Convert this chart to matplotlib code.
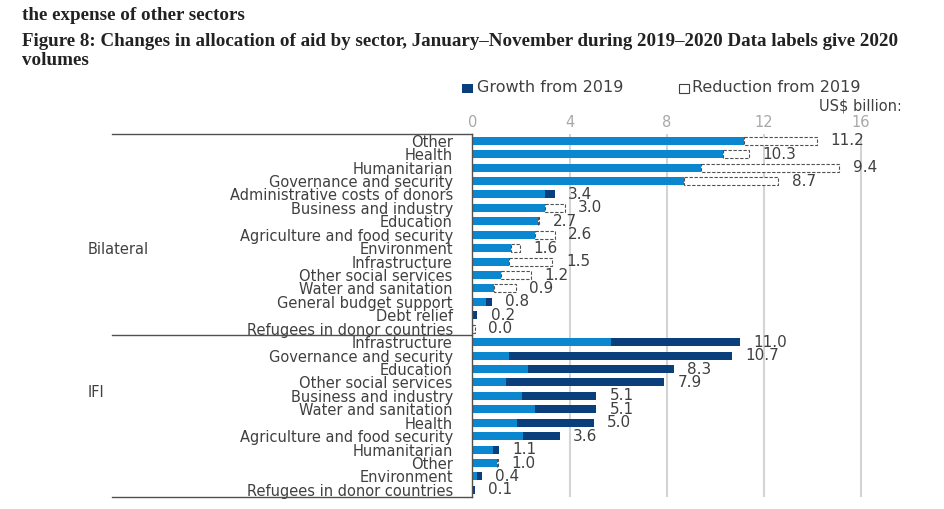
import numpy as np
import matplotlib
matplotlib.use("Agg")
import matplotlib.pyplot as plt
from matplotlib import transforms
from matplotlib.patches import Rectangle

# --- data (US$ billion, Jan-Nov) ---
bil_sectors = ["Other", "Health", "Humanitarian", "Governance and security",
               "Administrative costs of donors", "Business and industry", "Education",
               "Agriculture and food security", "Environment", "Infrastructure",
               "Other social services", "Water and sanitation", "General budget support",
               "Debt relief", "Refugees in donor countries"]
bil_2019 = [14.2, 11.4, 15.1, 12.6, 3.0, 3.8, 2.75, 3.4, 1.95, 3.3, 2.4, 1.8, 0.55, 0.02, 0.1]
bil_2020 = [11.2, 10.3, 9.4, 8.7, 3.4, 3.0, 2.7, 2.6, 1.6, 1.5, 1.2, 0.9, 0.8, 0.2, 0.0]

ifi_sectors = ["Infrastructure", "Governance and security", "Education", "Other social services",
               "Business and industry", "Water and sanitation", "Health",
               "Agriculture and food security", "Humanitarian", "Other", "Environment",
               "Refugees in donor countries"]
ifi_2019 = [5.7, 1.5, 2.3, 1.4, 2.05, 2.6, 1.85, 2.1, 0.85, 1.05, 0.2, 0.0]
ifi_2020 = [11.0, 10.7, 8.3, 7.9, 5.1, 5.1, 5.0, 3.6, 1.1, 1.0, 0.4, 0.1]

groups = ["Bilateral", "IFI"]
x_ticks = [0, 4, 8, 12, 16]

LIGHT = "#0a87cf"
DARK = "#0b3f7c"
TXT = "#404040"

sectors = bil_sectors + ifi_sectors
v19 = np.array(bil_2019 + ifi_2019)
v20 = np.array(bil_2020 + ifi_2020)
rows = np.arange(len(sectors))
base = np.minimum(v19, v20)
growth = np.clip(v20 - v19, 0, None)
reduction = np.clip(v19 - v20, 0, None)

plt.rcParams["font.family"] = ["DejaVu Sans"]
W, H = 945, 509
fig = plt.figure(figsize=(W / 100, H / 100), dpi=100)
ax = fig.add_axes([472.3 / W, 1 - 496.6 / H, (900 - 472.3) / W, (496.6 - 134) / H])

bh = 0.6
ax.barh(rows, base, height=bh, color=LIGHT, zorder=3)
ax.barh(rows, growth, left=base, height=bh, color=DARK, zorder=3)
red = ax.barh(rows, reduction, left=base, height=bh, facecolor="white",
              edgecolor="#505050", linewidth=0.8, zorder=3)
for p, r in zip(red, reduction):
    p.set_linestyle((0, (3, 1.5)))
    if r <= 0:
        p.set_visible(False)

for i in rows:
    ax.text(max(v19[i], v20[i]) + 0.55, i, f"{v20[i]:.1f}", va="center", ha="left",
            fontsize=11, color=TXT, zorder=4)

ax.set_xlim(0, (900 - 472.3) / 24.3)
ax.set_ylim(len(sectors) - 0.5, -0.5)
ax.set_xticks(x_ticks)
ax.set_xticklabels([str(t) for t in x_ticks])
ax.xaxis.set_ticks_position("top")
ax.tick_params(axis="x", length=0, pad=3, labelcolor="#a8a8a8", labelsize=10.5)
ax.set_yticks(rows)
ax.set_yticklabels(sectors)
ax.tick_params(axis="y", length=0, pad=14, labelcolor=TXT, labelsize=10.5)
ax.grid(axis="x", color="#d4d4d4", linewidth=1.5, zorder=0)
ax.set_axisbelow(True)
for s in ["top", "right", "bottom"]:
    ax.spines[s].set_visible(False)
ax.spines["left"].set_color("#505050")
ax.spines["left"].set_linewidth(1.0)
ax.spines["left"].set_zorder(5)

# category group brackets on the left
trans = transforms.blended_transform_factory(fig.transFigure, ax.transData)
nb = len(bil_sectors)
for yl in [-0.5, nb - 0.5, len(sectors) - 0.5]:
    ax.plot([112 / W, 472.3 / W], [yl, yl], color="#505050", lw=1.0,
            transform=trans, clip_on=False)
fig.text(88 / W, nb * 0.54, groups[0], transform=trans, fontsize=10.5, color=TXT, va="center")
fig.text(88 / W, nb + len(ifi_sectors) * 0.31, groups[1], transform=trans, fontsize=10.5,
         color=TXT, va="center")

# legend, cropped at the right like the source image
clip = transforms.TransformedBbox(transforms.Bbox([[0, 0], [900 / W, 1]]), fig.transFigure)
fig.patches.append(Rectangle((462 / W, 1 - 93 / H), 11 / W, 9 / H, facecolor=DARK,
                             transform=fig.transFigure, figure=fig))
fig.patches.append(Rectangle((679 / W, 1 - 93 / H), 10 / W, 9 / H, facecolor="white",
                             edgecolor="#404040", lw=0.8, transform=fig.transFigure, figure=fig))
fig.text(477 / W, 1 - 88 / H, "Growth from 2019", fontsize=11.5, color=TXT, va="center")
t = fig.text(692 / W, 1 - 88 / H, "Reduction from 2019", fontsize=11.5, color=TXT, va="center")
t.set_clip_box(clip); t.set_clip_on(True)
t = fig.text(902 / W, 1 - 106 / H, "US$ billion:", fontsize=10.5, color=TXT, va="center", ha="right")
t.set_clip_box(clip); t.set_clip_on(True)

# heading text above the chart
fig.text(22 / W, 1 - 15 / H, "the expense of other sectors", fontsize=13.7, fontweight="bold",
         family="Liberation Serif", color="#222222", va="center")
fig.text(22 / W, 1 - 33 / H,
         "Figure 8: Changes in allocation of aid by sector, January\u2013November during 2019\u20132020 Data labels give 2020\nvolumes",
         fontsize=13.7, fontweight="bold", family="Liberation Serif", color="#222222",
         va="top", linespacing=1.12)

fig.savefig("out.png", dpi=100)
